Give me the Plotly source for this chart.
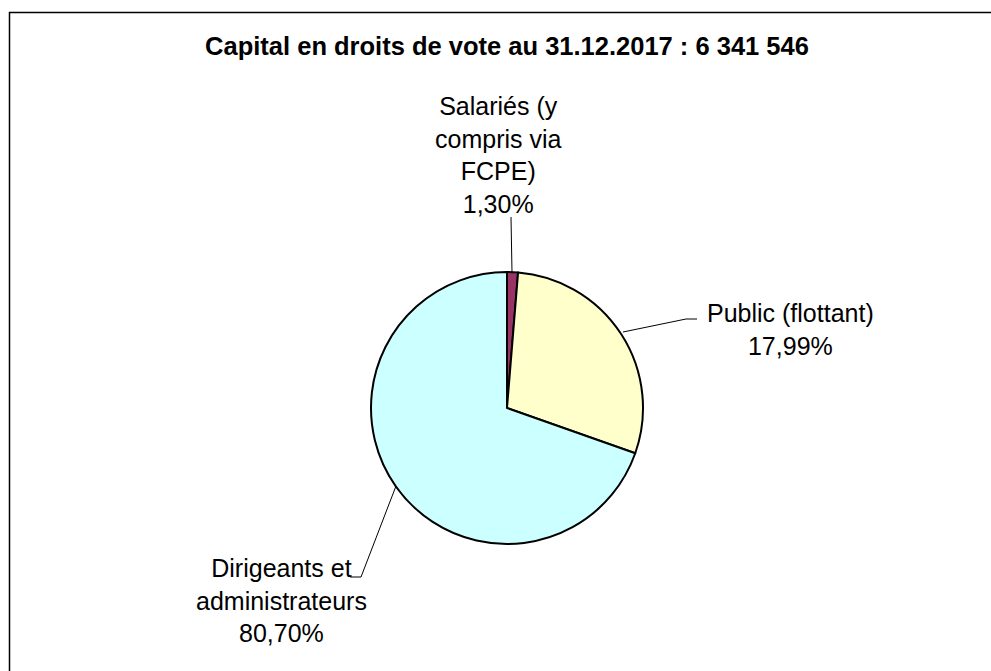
import plotly.graph_objects as go

W, H = 991, 671

# data
groups = ["Salariés (y<br>compris via<br>FCPE)", "Public (flottant)", "Dirigeants et<br>administrateurs"]
shares = [1.30, 29.10, 69.60]  # slice sizes as drawn
pct_labels = ["1,30%", "17,99%", "80,70%"]
colors = ["#993366", "#FFFFCC", "#CCFFFF"]


def px_x(x):
    return x / W


def px_y(y):
    return 1 - y / H


fig = go.Figure(
    go.Pie(
        labels=["Salariés (y compris via FCPE)", "Public (flottant)", "Dirigeants et administrateurs"],
        values=shares,
        sort=False,
        direction="clockwise",
        rotation=0,
        textinfo="none",
        hoverinfo="label+percent",
        marker=dict(colors=colors, line=dict(color="black", width=2)),
        domain=dict(x=[px_x(371), px_x(643)], y=[px_y(544), px_y(272)]),
        showlegend=False,
    )
)

font = dict(family="Arial, Liberation Sans, sans-serif", size=25, color="black")

# label positions (pixels)
label_pos = [(498, 155), (790, 329), (281, 600)]
annotations = []
for g, p, (x, y) in zip(groups, pct_labels, label_pos):
    annotations.append(
        dict(
            x=px_x(x), y=px_y(y), xref="paper", yref="paper",
            text=f"{g}<br>{p}", showarrow=False, align="center",
            xanchor="center", yanchor="middle", font=font,
        )
    )

# leader lines (pixels)
leaders = [
    [(511, 217), (512, 272)],
    [(623, 332), (686, 319), (697, 319)],
    [(350, 577), (361, 577), (396, 486)],
]
shapes = []
for pts in leaders:
    path = "M " + " L ".join(f"{px_x(a)},{px_y(b)}" for a, b in pts)
    shapes.append(dict(type="path", xref="paper", yref="paper", path=path,
                       line=dict(color="black", width=1)))

# outer chart border
shapes.append(dict(type="rect", xref="paper", yref="paper",
                   x0=px_x(9.5), x1=1.02, y0=-0.02, y1=px_y(12.5),
                   line=dict(color="black", width=1.5), fillcolor="rgba(0,0,0,0)"))

fig.update_layout(
    width=W, height=H,
    margin=dict(l=0, r=0, t=0, b=0),
    paper_bgcolor="white",
    plot_bgcolor="white",
    title=dict(
        text="<b>Capital en droits de vote au 31.12.2017 : 6 341 546</b>",
        x=px_x(507), y=px_y(46), xanchor="center", yanchor="middle",
        font=dict(family="Arial, Liberation Sans, sans-serif", size=25.5, color="black"),
    ),
    annotations=annotations,
    shapes=shapes,
)

fig.write_html(
    "out.html",
    config={"displayModeBar": False},
    post_script="document.body.style.margin='0';document.body.style.overflow='hidden';",
)
